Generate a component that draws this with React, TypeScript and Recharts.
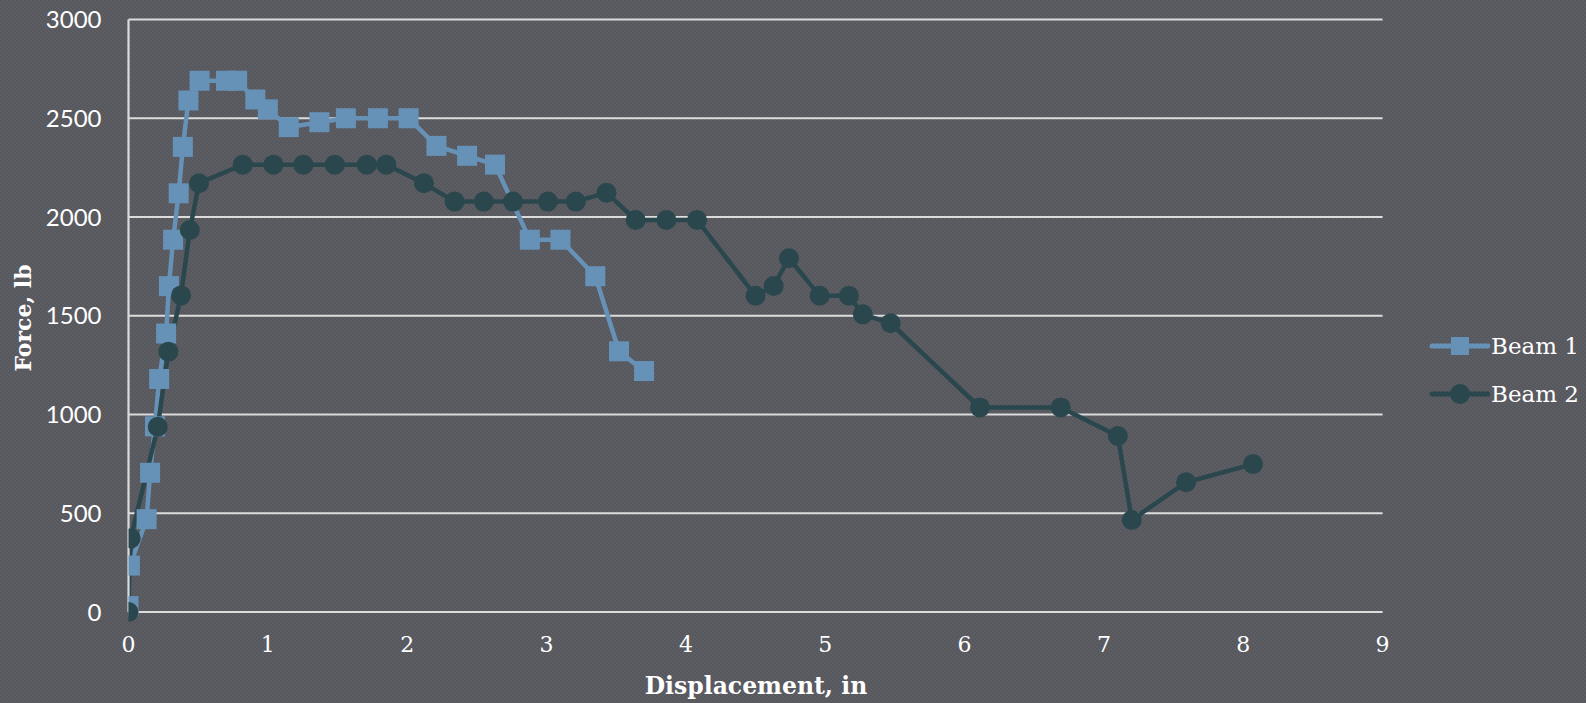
import React from 'react';
import { LineChart, Line, XAxis, YAxis, CartesianGrid, Label } from 'recharts';

const beam1X = [0, 0.01, 0.13, 0.155, 0.19, 0.22, 0.27, 0.29, 0.32, 0.36, 0.39, 0.43, 0.51, 0.7, 0.78, 0.91, 1.0, 1.15, 1.37, 1.56, 1.79, 2.01, 2.21, 2.43, 2.63, 2.88, 3.1, 3.35, 3.52, 3.7];
const beam1F = [30, 235, 470, 705, 940, 1180, 1410, 1650, 1885, 2120, 2355, 2590, 2690, 2690, 2690, 2595, 2545, 2455, 2480, 2500, 2500, 2500, 2360, 2310, 2265, 1885, 1885, 1700, 1320, 1220];

const beam2X = [0, 0.016, 0.21, 0.286, 0.377, 0.44, 0.506, 0.82, 1.04, 1.255, 1.48, 1.71, 1.85, 2.12, 2.34, 2.55, 2.76, 3.01, 3.21, 3.43, 3.64, 3.86, 4.08, 4.5, 4.63, 4.74, 4.96, 5.17, 5.27, 5.47, 6.11, 6.69, 7.1, 7.2, 7.59, 8.07];
const beam2F = [0, 373, 938, 1318, 1603, 1934, 2171, 2265, 2265, 2265, 2265, 2265, 2265, 2171, 2078, 2078, 2078, 2078, 2078, 2123, 1985, 1985, 1985, 1601, 1651, 1791, 1601, 1601, 1507, 1462, 1036, 1036, 891, 466, 657, 749];

const xTicks = [0, 1, 2, 3, 4, 5, 6, 7, 8, 9];
const yTicks = [0, 500, 1000, 1500, 2000, 2500, 3000];

const seriesNames = ['Beam 1', 'Beam 2'];
const colors = ['#6792b8', '#2b474e'];

const beam1 = beam1X.map((x, i) => ({ x, y: beam1F[i] }));
const beam2 = beam2X.map((x, i) => ({ x, y: beam2F[i] }));

const GRID = '#dcdcdc';
const serif = '"DejaVu Serif", serif';

const SquareDot = (props: any) => {
  const { cx, cy, index } = props;
  if (cx == null || cy == null) return null;
  return <rect key={`sq-${index}`} x={cx - 10} y={cy - 10} width={20} height={20} fill={colors[0]} />;
};

const CircleDot = (props: any) => {
  const { cx, cy, index } = props;
  if (cx == null || cy == null) return null;
  return <circle key={`ci-${index}`} cx={cx} cy={cy} r={10} fill={colors[1]} />;
};

const LegendBox = () => (
  <div style={{ position: 'absolute', left: 1428, top: 322 }}>
    {seriesNames.map((name, i) => (
      <div key={name} style={{ display: 'flex', alignItems: 'center', height: 48 }}>
        <svg width={62} height={24} style={{ display: 'block' }}>
          <line x1={4} y1={12} x2={60} y2={12} stroke={colors[i]} strokeWidth={5} strokeLinecap="round" />
          {i === 0 ? (
            <rect x={23} y={3} width={18} height={18} fill={colors[i]} />
          ) : (
            <circle cx={32} cy={12} r={10} fill={colors[i]} />
          )}
        </svg>
        <span style={{ fontFamily: serif, fontSize: 23, color: '#ffffff', marginLeft: 1, lineHeight: '24px' }}>{name}</span>
      </div>
    ))}
  </div>
);

export default function App() {
  return (
    <div
      style={{
        position: 'absolute',
        left: 0,
        top: 0,
        width: 1586,
        height: 703,
        backgroundColor: '#5a5a61',
        backgroundImage: 'repeating-conic-gradient(#5d5d64 0% 25%, #57575e 0% 50%)',
        backgroundSize: '4px 4px',
        overflow: 'hidden',
      }}
    >
      <LineChart width={1586} height={703} margin={{ top: 19.5, right: 203.4, bottom: 0, left: 0 }}>
        <CartesianGrid vertical={false} stroke={GRID} strokeWidth={2.2} />
        <XAxis
          type="number"
          dataKey="x"
          domain={[0, 9]}
          ticks={xTicks}
          interval={0}
          height={91}
          axisLine={false}
          tickLine={false}
          tickSize={0}
          tickMargin={24}
          tick={{ fill: '#ffffff', fontSize: 22, fontFamily: serif }}
          allowDataOverflow
        >
          <Label
            content={() => (
              <text x={756} y={694} textAnchor="middle" fill="#ffffff" fontFamily={serif} fontWeight="bold" fontSize={23.5}>
                Displacement, in
              </text>
            )}
          />
        </XAxis>
        <YAxis
          type="number"
          domain={[0, 3000]}
          ticks={yTicks}
          interval={0}
          width={128.5}
          axisLine={{ stroke: GRID, strokeWidth: 2.2 }}
          tickLine={false}
          tickSize={0}
          tickMargin={27}
          tick={{ fill: '#ffffff', fontSize: 24, fontFamily: 'Lato, sans-serif' }}
        >
          <Label
            content={() => (
              <text
                transform="translate(23,318) rotate(-90)"
                textAnchor="middle"
                dominantBaseline="central"
                fill="#ffffff"
                fontFamily={serif}
                fontWeight="bold"
                fontSize={22}
              >
                Force, lb
              </text>
            )}
          />
        </YAxis>
        <Line
          data={beam1}
          dataKey="y"
          name={seriesNames[0]}
          type="linear"
          stroke={colors[0]}
          strokeWidth={4.5}
          dot={SquareDot}
          activeDot={false}
          isAnimationActive={false}
        />
        <Line
          data={beam2}
          dataKey="y"
          name={seriesNames[1]}
          type="linear"
          stroke={colors[1]}
          strokeWidth={4.5}
          dot={CircleDot}
          activeDot={false}
          isAnimationActive={false}
        />
      </LineChart>
      <LegendBox />
    </div>
  );
}
